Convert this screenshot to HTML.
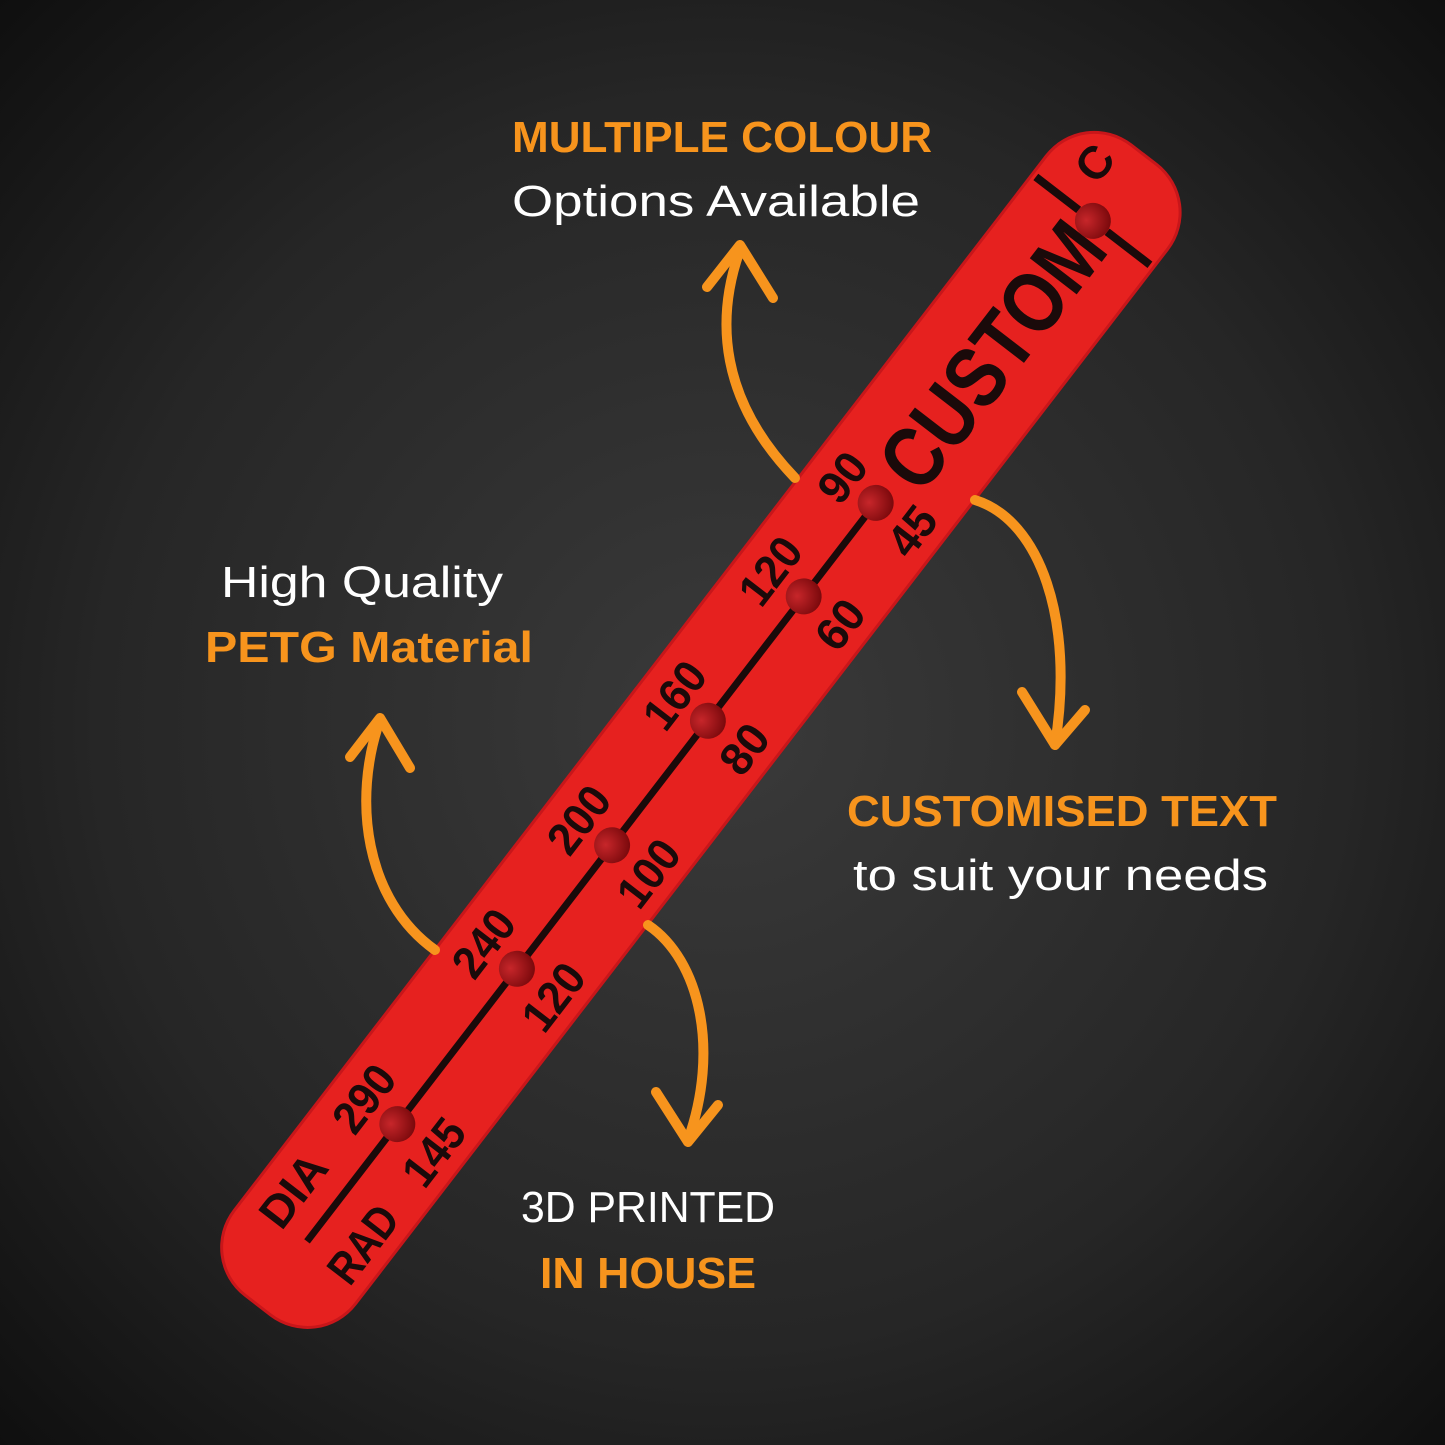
<!DOCTYPE html>
<html><head><meta charset="utf-8"><style>
html,body{margin:0;padding:0;background:#1a1a1a}
svg{display:block}
</style></head><body>
<svg width="1445" height="1445" viewBox="0 0 1445 1445" xmlns="http://www.w3.org/2000/svg">
<defs>
<radialGradient id="bg" cx="50%" cy="50%" r="72%">
<stop offset="0" stop-color="#3a3a3a"/><stop offset="0.6" stop-color="#262626"/><stop offset="1" stop-color="#0e0e0e"/>
</radialGradient>
<radialGradient id="dot" cx="40%" cy="35%" r="65%">
<stop offset="0" stop-color="#c7262a"/><stop offset="1" stop-color="#7d0a0d"/>
</radialGradient>
</defs>
<rect width="1445" height="1445" fill="url(#bg)"/>

<g transform="translate(636.5,813.5) rotate(-52.4)">
<rect x="-622" y="-78" width="1455" height="156" rx="62" fill="#c8161a"/>
<rect x="-619" y="-75" width="1449" height="150" rx="59" fill="#e6211f"/>
<g font-family="Liberation Sans, sans-serif" font-weight="bold" fill="#1a0a0a">
<line x1="-540" y1="0" x2="392" y2="0" stroke="#1a0a0a" stroke-width="7"/>
<line x1="748" y1="-72" x2="748" y2="-18" stroke="#1a0a0a" stroke-width="8"/>
<line x1="748" y1="18" x2="748" y2="72" stroke="#1a0a0a" stroke-width="8"/>
<text x="-508" y="-26" font-size="46" text-anchor="middle" textLength="80" lengthAdjust="spacingAndGlyphs">DIA</text>
<text x="-508" y="62" font-size="46" text-anchor="middle" textLength="85" lengthAdjust="spacingAndGlyphs">RAD</text>
<text x="-392" y="-26" font-size="46" text-anchor="middle" textLength="72" lengthAdjust="spacingAndGlyphs">290</text>
<text x="-392" y="62" font-size="46" text-anchor="middle" textLength="72" lengthAdjust="spacingAndGlyphs">145</text>
<text x="-196" y="-26" font-size="46" text-anchor="middle" textLength="72" lengthAdjust="spacingAndGlyphs">240</text>
<text x="-196" y="62" font-size="46" text-anchor="middle" textLength="72" lengthAdjust="spacingAndGlyphs">120</text>
<text x="-40" y="-26" font-size="46" text-anchor="middle" textLength="72" lengthAdjust="spacingAndGlyphs">200</text>
<text x="-40" y="62" font-size="46" text-anchor="middle" textLength="72" lengthAdjust="spacingAndGlyphs">100</text>
<text x="117" y="-26" font-size="46" text-anchor="middle" textLength="72" lengthAdjust="spacingAndGlyphs">160</text>
<text x="117" y="62" font-size="46" text-anchor="middle" textLength="50" lengthAdjust="spacingAndGlyphs">80</text>
<text x="274" y="-26" font-size="46" text-anchor="middle" textLength="72" lengthAdjust="spacingAndGlyphs">120</text>
<text x="274" y="62" font-size="46" text-anchor="middle" textLength="50" lengthAdjust="spacingAndGlyphs">60</text>
<text x="392" y="-26" font-size="46" text-anchor="middle" textLength="50" lengthAdjust="spacingAndGlyphs">90</text>
<text x="392" y="62" font-size="46" text-anchor="middle" textLength="50" lengthAdjust="spacingAndGlyphs">45</text>
<text x="580" y="32" font-size="86" text-anchor="middle" textLength="310" lengthAdjust="spacingAndGlyphs">CUSTOM</text>
<text x="795" y="-18" font-size="46" text-anchor="middle">C</text>
</g>
<g fill="url(#dot)">
<circle cx="748" cy="0" r="18"/><circle cx="392" cy="0" r="18"/><circle cx="274" cy="0" r="18"/>
<circle cx="117" cy="0" r="18"/><circle cx="-40" cy="0" r="18"/><circle cx="-196" cy="0" r="18"/><circle cx="-392" cy="0" r="18"/>
</g>
</g>

<g fill="none" stroke="#f7941d" stroke-width="10" stroke-linecap="round" stroke-linejoin="round">
<path d="M795 478 C720 400,715 320,740 250"/><path d="M707 287 L740 245 L773 298"/>
<path d="M975 500 C1040 520,1075 620,1055 745"/><path d="M1022 692 L1055 745 L1085 710"/>
<path d="M435 950 C365 900,352 800,380 720"/><path d="M350 757 L380 718 L410 768"/>
<path d="M648 925 C700 960,720 1050,688 1140"/><path d="M656 1092 L688 1142 L718 1105"/>
</g>

<g font-family="Liberation Sans, sans-serif" font-size="44">
<text x="512" y="152" fill="#f7941d" font-weight="bold" textLength="420" lengthAdjust="spacingAndGlyphs">MULTIPLE COLOUR</text>
<text x="512" y="216" fill="#fff" textLength="408" lengthAdjust="spacingAndGlyphs">Options Available</text>
<text x="221" y="597" fill="#fff" textLength="282" lengthAdjust="spacingAndGlyphs">High Quality</text>
<text x="205" y="662" fill="#f7941d" font-weight="bold" textLength="328" lengthAdjust="spacingAndGlyphs">PETG Material</text>
<text x="847" y="826" fill="#f7941d" font-weight="bold" textLength="430" lengthAdjust="spacingAndGlyphs">CUSTOMISED TEXT</text>
<text x="853" y="890" fill="#fff" textLength="415" lengthAdjust="spacingAndGlyphs">to suit your needs</text>
<text x="521" y="1222" fill="#fff" textLength="254" lengthAdjust="spacingAndGlyphs">3D PRINTED</text>
<text x="540" y="1288" fill="#f7941d" font-weight="bold" textLength="216" lengthAdjust="spacingAndGlyphs">IN HOUSE</text>
</g>
</svg>
</body></html>
